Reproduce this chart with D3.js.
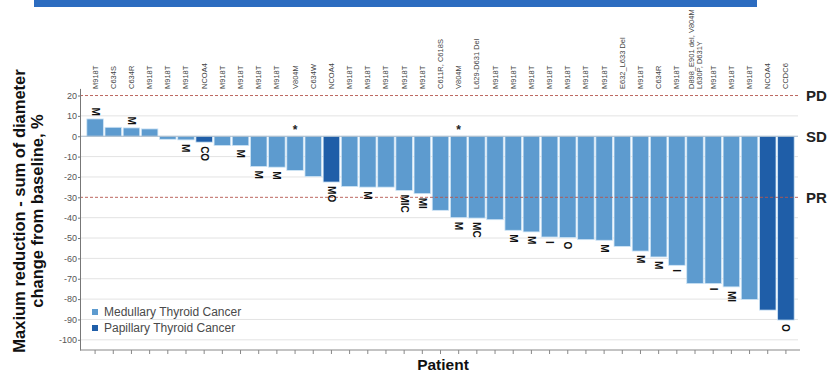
<!DOCTYPE html>
<html>
<head>
<meta charset="utf-8">
<script src="https://cdn.jsdelivr.net/npm/d3@7"></script>
<style>
  body { margin: 0; background: #fff; }
  svg { display: block; }
  text { font-family: Arial, "Liberation Sans", sans-serif; }
</style>
</head>
<body>
<svg id="chart" width="830" height="374"></svg>
<script>
// Per-patient data, ordered from largest growth to largest shrinkage
const mutations = [
  "M918T", "C634S", "C634R", "M918T", "M918T", "M918T", "NCOA4", "M918T",
  "M918T", "M918T", "M918T", "V804M", "C634W", "NCOA4", "M918T", "M918T",
  "M918T", "M918T", "M918T", "C611R, C618S", "V804M", "L629-D631 Del", "M918T",
  "M918T", "M918T", "M918T", "M918T", "M918T", "M918T", "E632_L633 Del",
  "M918T", "C634R", "M918T", "D898_E901 del, V804M|L630P, D631Y", "M918T",
  "M918T", "M918T", "NCOA4", "CCDC6"
];
const changePct = [
  8.5, 4.4, 4.1, 3.6, -1.5, -1.8, -2.9, -4.6, -4.6, -14.9, -15.2, -16.8, -19.8,
  -22.5, -24.7, -25.0, -25.0, -26.6, -28.2, -36.4, -40.0, -40.2, -41.0, -46.2,
  -47.0, -49.5, -49.8, -50.8, -51.1, -54.1, -56.4, -59.3, -63.4, -72.4, -72.4,
  -74.0, -80.2, -85.4, -90.3
];
const histology = [
  "MTC", "MTC", "MTC", "MTC", "MTC", "MTC", "PTC", "MTC", "MTC", "MTC", "MTC",
  "MTC", "MTC", "PTC", "MTC", "MTC", "MTC", "MTC", "MTC", "MTC", "MTC", "MTC",
  "MTC", "MTC", "MTC", "MTC", "MTC", "MTC", "MTC", "MTC", "MTC", "MTC", "MTC",
  "MTC", "MTC", "MTC", "MTC", "PTC", "PTC"
];
const siteCodes = [
  "M", "", "M", "", "", "M", "CO", "", "M", "M", "M", "", "", "MO", "", "M",
  "", "MIC", "MI", "", "M", "MC", "", "M", "M", "I", "O", "", "M", "", "M",
  "M", "I", "", "I", "MI", "", "", "O"
];
const starred = [11, 20];
const yTicks = [20, 10, 0, -10, -20, -30, -40, -50, -60, -70, -80, -90, -100];
const refLines = [
  { value: 20, label: "PD", dashed: true },
  { value: 0, label: "SD", dashed: false },
  { value: -30, label: "PR", dashed: true }
];
const legendItems = [
  { key: "MTC", label: "Medullary Thyroid Cancer" },
  { key: "PTC", label: "Papillary Thyroid Cancer" }
];

const colors = { MTC: "#5d9bcf", PTC: "#1f5ea8" };
const patientIds = mutations.map((_, i) => "P" + (i + 1));

const svg = d3.select("#chart");
const plotLeft = 80, plotRight = 798, plotBottom = 350;

const x = d3.scaleBand().domain(patientIds).range([86, 795])
  .paddingInner(0.09).paddingOuter(0.045);
const y = d3.scaleLinear().domain([-105, 23.5]).range([plotBottom, 88.4]);

// Header band along the top edge
svg.append("rect").attr("x", 34).attr("y", 0).attr("width", 723).attr("height", 7)
  .attr("fill", "#2c6cc0");

// Horizontal gridlines
svg.append("g").selectAll("line")
  .data(yTicks.filter(t => !refLines.some(r => r.value === t)))
  .join("line")
  .attr("x1", plotLeft).attr("x2", plotRight)
  .attr("y1", d => y(d)).attr("y2", d => y(d))
  .attr("stroke", "#e3e3e3").attr("stroke-width", 1);

// Bars
svg.append("g").selectAll("rect")
  .data(changePct)
  .join("rect")
  .attr("x", (d, i) => x(patientIds[i]))
  .attr("width", x.bandwidth())
  .attr("y", d => Math.min(y(d), y(0)))
  .attr("height", d => Math.abs(y(d) - y(0)))
  .attr("fill", (d, i) => colors[histology[i]])
  .attr("stroke", "#cfe5f6").attr("stroke-width", 0.8);

// Response threshold lines
const refG = svg.append("g");
refG.selectAll("line").data(refLines).join("line")
  .attr("x1", plotLeft).attr("x2", plotRight)
  .attr("y1", d => y(d.value)).attr("y2", d => y(d.value))
  .attr("stroke", d => d.dashed ? "#b4574f" : "#a7b9c8")
  .attr("stroke-width", d => d.dashed ? 0.9 : 1.2)
  .attr("stroke-dasharray", d => d.dashed ? "3,2" : null);
refG.selectAll("text").data(refLines).join("text")
  .attr("x", 806).attr("y", d => y(d.value))
  .attr("dominant-baseline", "central")
  .attr("font-size", 15).attr("font-weight", "bold").attr("fill", "#222")
  .text(d => d.label);

// Y axis
const yAxis = svg.append("g").attr("transform", `translate(${plotLeft},0)`)
  .call(d3.axisLeft(y).tickValues(yTicks).tickSize(2).tickSizeOuter(0)
    .tickFormat(d => String(d)));
yAxis.select(".domain").attr("stroke", "#777");
yAxis.selectAll(".tick line").attr("stroke", "#777");
yAxis.selectAll(".tick text").attr("font-size", 9).attr("fill", "#555")
  .attr("font-family", "Arial, 'Liberation Sans', sans-serif").attr("x", -3);

// X axis with a tick per patient
const xAxis = svg.append("g").attr("transform", `translate(0,${plotBottom})`)
  .call(d3.axisBottom(x).tickSize(4).tickSizeOuter(0).tickFormat(""));
xAxis.select(".domain").remove();
xAxis.append("line").attr("x1", plotLeft).attr("x2", 800)
  .attr("stroke", "#888").attr("stroke-width", 1);
xAxis.selectAll(".tick line").attr("stroke", "#888");

// Mutation labels above the plot
const mutG = svg.append("g");
mutations.forEach((m, i) => {
  const lines = m.split("|");
  const cx = x(patientIds[i]) + x.bandwidth() / 2;
  const g = mutG.append("g").attr("transform", `translate(${cx},89) rotate(-90)`);
  lines.forEach((line, j) => {
    g.append("text")
      .attr("x", 0)
      .attr("y", (j - (lines.length - 1) / 2) * 8)
      .attr("dominant-baseline", "central")
      .attr("font-size", 7.5).attr("fill", "#444")
      .text(line);
  });
});

// Site-of-disease codes at each bar's end
const codeG = svg.append("g");
siteCodes.forEach((c, i) => {
  if (!c) return;
  const v = changePct[i];
  const cx = x(patientIds[i]) + x.bandwidth() / 2;
  const py = v >= 0 ? y(v) - 3 : y(v) + 4;
  codeG.append("text")
    .attr("transform", `translate(${cx},${py}) rotate(90)`)
    .attr("text-anchor", v >= 0 ? "end" : "start")
    .attr("dominant-baseline", "central")
    .attr("font-size", 10).attr("font-weight", "bold").attr("fill", "#111")
    .text(c);
});

// Asterisk markers
svg.append("g").selectAll("text").data(starred).join("text")
  .attr("x", i => x(patientIds[i]) + x.bandwidth() / 2)
  .attr("y", y(0) - 2)
  .attr("text-anchor", "middle")
  .attr("font-size", 12).attr("font-weight", "bold").attr("fill", "#222")
  .text("*");

// Legend
const leg = svg.append("g").attr("transform", "translate(92,312)");
legendItems.forEach((d, i) => {
  leg.append("rect").attr("x", 0).attr("y", i * 16 - 3).attr("width", 6).attr("height", 6)
    .attr("fill", colors[d.key]);
  leg.append("text").attr("x", 12).attr("y", i * 16)
    .attr("dominant-baseline", "central")
    .attr("font-size", 12).attr("fill", "#4a4a4a").text(d.label);
});

// Axis titles
const yt = svg.append("g").attr("transform", "translate(24.5,211) rotate(-90)");
yt.append("text").attr("text-anchor", "middle").attr("y", 0)
  .attr("font-size", 16.5).attr("font-weight", "bold").attr("fill", "#111")
  .text("Maxium reduction - sum of diameter");
yt.append("text").attr("text-anchor", "middle").attr("y", 18)
  .attr("font-size", 16.5).attr("font-weight", "bold").attr("fill", "#111")
  .text("change from baseline, %");
svg.append("text").attr("x", 443).attr("y", 370).attr("text-anchor", "middle")
  .attr("font-size", 15.5).attr("font-weight", "bold").attr("fill", "#111")
  .text("Patient");
</script>
</body>
</html>
